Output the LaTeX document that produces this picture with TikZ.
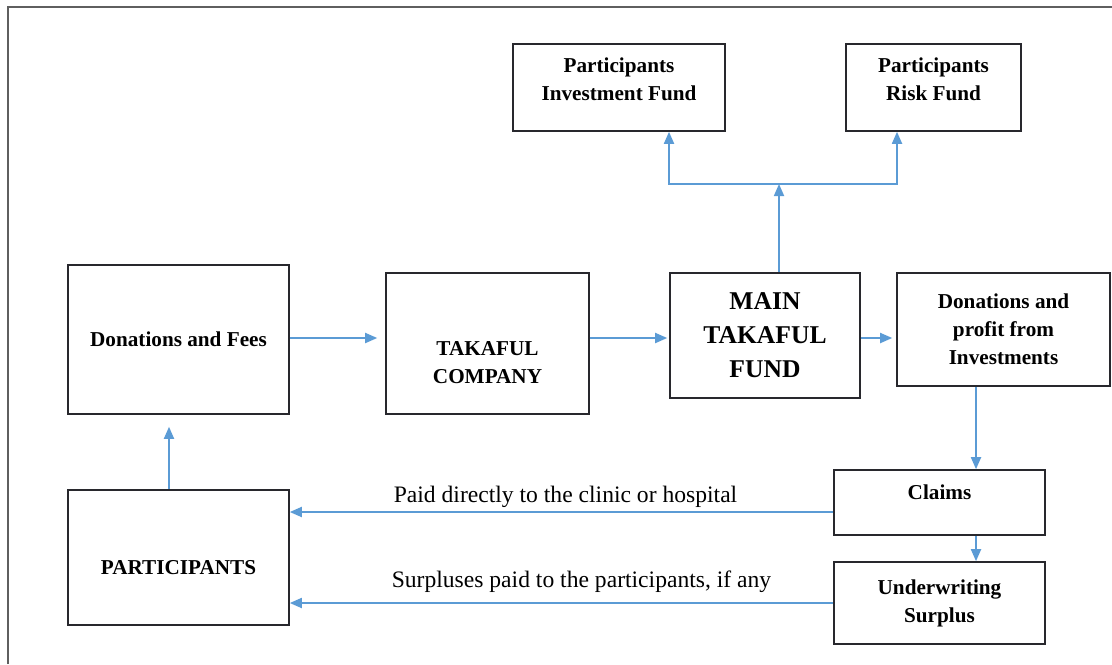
\documentclass[tikz,border=0pt]{standalone}
\usepackage{fontspec}
\setmainfont{Liberation Serif}
\usepackage{xcolor}
\usetikzlibrary{arrows.meta,calc}
\definecolor{takafulblue}{RGB}{91,155,213}
\definecolor{takafuldark}{RGB}{40,40,45}
\definecolor{takafulframe}{RGB}{95,95,95}

\tikzset{
  box/.style={draw=takafuldark, line width=0.8pt, align=center, inner sep=2pt,
    font=\bfseries\fontsize{10.6}{14}\selectfont},
  mainbox/.style={box, font=\bfseries\fontsize{12.8}{17}\selectfont},
  flow/.style={draw=takafulblue, line width=0.9pt, -{Triangle[width=5pt,length=6pt]}},
  flowlabel/.style={font=\fontsize{11.8}{14}\selectfont, inner sep=2pt}
}

\begin{document}
\begin{tikzpicture}[x=0.5pt, y=-0.5pt]
\useasboundingbox (0,0) rectangle (1112,664);
% outer frame, cut at right and bottom
\draw[takafulframe, line width=1.2pt] (8,664) -- (8,7) -- (1112,7);

% top row: the two funds
\node[box, minimum width=106pt, minimum height=43.5pt] (invfund) at (619,87.5) {Participants\\Investment Fund\\[-10pt]\strut};
\node[box, minimum width=87.5pt, minimum height=43.5pt] (riskfund) at (933.5,87.5) {Participants\\Risk Fund\\[-10pt]\strut};

% middle row
\node[box, minimum width=110.5pt, minimum height=74.5pt] (fees) at (178.5,339.5) {Donations and Fees};
\node[box, minimum width=101.5pt, minimum height=70.5pt] (company) at (487.5,343.5) {\strut\\[2pt]TAKAFUL\\COMPANY};
\node[mainbox, minimum width=95pt, minimum height=62.5pt] (mainfund) at (765,335.5) {MAIN\\TAKAFUL\\FUND};
\node[box, minimum width=106.5pt, minimum height=56.5pt] (profit) at (1003.5,329.5) {Donations and\\profit from\\Investments};

% bottom row
\node[box, minimum width=110.5pt, minimum height=67.5pt] (participants) at (178.5,557.5) {\strut\\[-7pt]PARTICIPANTS};
\node[box, minimum width=105.5pt, minimum height=32.5pt] (claims) at (939.5,502.5) {Claims\\[-8pt]\strut};
\node[box, minimum width=105.5pt, minimum height=41pt] (surplus) at (939.5,603) {Underwriting\\Surplus};

% helper coordinates
\coordinate (midrow) at (0,338);
\coordinate (split) at (779,184);
\coordinate (dropx) at (976,0);
\coordinate (paidy) at (0,512);

% main flow
\draw[flow, shorten >=4pt] (fees.east |- midrow) -- (company.west |- midrow);
\draw[flow, shorten >=1pt] (company.east |- midrow) -- (mainfund.west |- midrow);
\draw[flow, shorten >=2pt] (mainfund.east |- midrow) -- (profit.west |- midrow);

% split to the funds
\draw[flow] (mainfund.north -| split) -- (split);
\draw[flow] (split) -| ($(invfund.south)+(50,0)$);
\draw[flow] (split) -| ($(riskfund.south)+(-36.5,0)$);

% claims and surplus
\draw[flow] (profit.south -| dropx) -- (claims.north -| dropx);
\draw[flow] (claims.south -| dropx) -- (surplus.north -| dropx);

% back to the participants
\draw[flow] (claims.west |- paidy) -- node[flowlabel, above=0pt, xshift=2pt] {Paid directly to the clinic or hospital} (participants.east |- paidy);
\draw[flow] (surplus.west) -- node[flowlabel, above=3pt, xshift=10pt] {Surpluses paid to the participants, if any} (participants.east |- surplus.west);
\draw[flow, shorten >=6pt] ($(participants.north)+(-9.5,0)$) -- ($(fees.south)+(-9.5,0)$);
\end{tikzpicture}
\end{document}
